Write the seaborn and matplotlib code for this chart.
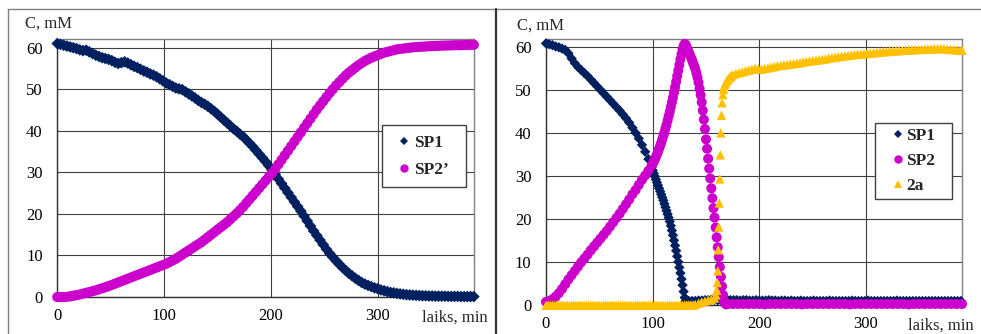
import numpy as np
import pandas as pd
import matplotlib
matplotlib.use('Agg')
import matplotlib.pyplot as plt
import seaborn as sns
from matplotlib.lines import Line2D
from matplotlib.patches import Rectangle

# ---------------- data ----------------
# Left panel, 3-minute sampling
time_left = list(range(0, 391, 3))
sp1_left = [
    61.0, 60.8, 60.6, 60.4, 60.2, 60.0, 59.8, 59.5, 59.3, 59.4,
    59.0, 58.6, 58.2, 57.9, 57.6, 57.4, 57.2, 56.9, 56.5, 56.2,
    56.4, 56.6, 56.3, 55.9, 55.5, 55.2, 54.8, 54.4, 54.1, 53.7,
    53.4, 53.0, 52.5, 52.0, 51.5, 51.1, 50.7, 50.3, 50.1, 49.9,
    49.4, 48.9, 48.4, 47.9, 47.3, 46.8, 46.4, 45.9, 45.3, 44.7,
    44.0, 43.3, 42.6, 41.9, 41.2, 40.5, 39.9, 39.2, 38.6, 37.8,
    37.0, 36.2, 35.3, 34.4, 33.5, 32.6, 31.6, 30.6, 29.5, 28.4,
    27.3, 26.2, 25.1, 24.0, 22.9, 21.8, 20.7, 19.5, 18.3, 17.1,
    15.9, 14.8, 13.7, 12.6, 11.5, 10.5, 9.6, 8.7, 7.9, 7.1,
    6.4, 5.7, 5.1, 4.5, 4.0, 3.5, 3.1, 2.8, 2.5, 2.2,
    2.0, 1.7, 1.5, 1.3, 1.1, 1.0, 0.85, 0.75, 0.65, 0.55,
    0.5, 0.45, 0.4, 0.35, 0.3, 0.3, 0.25, 0.25, 0.2, 0.2,
    0.2, 0.2, 0.15, 0.15, 0.15, 0.15, 0.1, 0.1, 0.1, 0.1,
    0.1,
]
sp2p_left = [
    0.0, 0.0, 0.0, 0.05, 0.15, 0.3, 0.45, 0.6, 0.8, 1.0,
    1.2, 1.4, 1.6, 1.85, 2.1, 2.35, 2.6, 2.9, 3.2, 3.5,
    3.8, 4.1, 4.4, 4.7, 5.0, 5.3, 5.6, 5.9, 6.2, 6.5,
    6.8, 7.1, 7.4, 7.7, 8.0, 8.4, 8.8, 9.2, 9.7, 10.2,
    10.7, 11.2, 11.7, 12.2, 12.7, 13.2, 13.8, 14.4, 15.0, 15.6,
    16.2, 16.8, 17.4, 18.0, 18.7, 19.4, 20.1, 20.9, 21.7, 22.6,
    23.5, 24.4, 25.3, 26.2, 27.1, 28.0, 28.9, 29.8, 30.8, 31.9,
    33.0, 34.1, 35.2, 36.3, 37.4, 38.5, 39.6, 40.7, 41.8, 42.9,
    44.0, 45.1, 46.1, 47.1, 48.1, 49.1, 50.0, 50.9, 51.7, 52.5,
    53.3, 54.0, 54.6, 55.2, 55.8, 56.3, 56.8, 57.2, 57.6, 57.9,
    58.2, 58.5, 58.8, 59.0, 59.2, 59.4, 59.6, 59.7, 59.8, 59.9,
    60.0, 60.1, 60.15, 60.2, 60.25, 60.3, 60.35, 60.4, 60.4, 60.45,
    60.5, 60.5, 60.55, 60.55, 60.6, 60.6, 60.6, 60.65, 60.65, 60.7,
    60.7,
]

# Right panel
time_sp1_right = list(range(0, 100, 3)) + list(range(100, 132)) + list(range(134, 391, 3))
sp1_right = [
    60.9, 60.7, 60.5, 60.2, 60.0, 59.7, 59.4, 58.6, 57.4, 56.3,
    55.4, 54.7, 54.0, 53.3, 52.5, 51.7, 50.9, 50.1, 49.3, 48.5,
    47.7, 46.9, 46.1, 45.3, 44.4, 43.5, 42.5, 41.3, 40.1, 38.8,
    37.3, 35.7, 34.0, 32.1,
    31.4, 30.7, 30.0, 29.3, 28.6, 27.9, 27.2, 26.5, 25.8, 25.1,
    24.4, 23.6, 22.8, 22.0, 21.2, 20.4, 19.5, 18.5, 17.4, 16.3,
    15.1, 13.9, 12.7, 11.4, 10.1, 8.8, 7.5, 6.1, 4.7, 3.2,
    1.8, 1.0,
    1.0, 1.0, 1.0, 1.1, 1.1, 1.2, 1.2, 1.3, 1.3, 1.2,
    1.2, 1.3, 1.3, 1.2, 1.2, 1.2, 1.1, 1.2, 1.2, 1.1,
    1.1, 1.2, 1.1, 1.1, 1.1, 1.2, 1.1, 1.1, 1.0, 1.1,
    1.1, 1.0, 1.1, 1.0, 1.0, 1.1, 1.0, 1.0, 1.0, 1.1,
    1.0, 1.0, 1.0, 1.0, 1.1, 1.0, 1.0, 1.0, 1.0, 1.0,
    1.0, 1.1, 1.0, 1.0, 1.0, 1.0, 1.1, 1.0, 1.0, 1.0,
    1.0, 1.0, 1.0, 1.0, 1.0, 1.1, 1.0, 1.0, 1.0, 1.0,
    1.0, 1.0, 1.0, 1.0, 1.0, 1.0, 1.0, 1.0, 1.0, 1.0,
    1.0, 1.0, 1.0, 1.0, 1.0, 1.0,
]

time_sp2_right = list(range(0, 100, 3)) + list(range(100, 170)) + list(range(170, 391, 5))
sp2_right = [
    0.8, 1.0, 1.4, 2.0, 2.8, 3.8, 4.9, 6.0, 7.0, 8.0,
    9.0, 10.0, 10.9, 11.8, 12.8, 13.7, 14.6, 15.5, 16.4, 17.3,
    18.3, 19.3, 20.3, 21.3, 22.4, 23.5, 24.6, 25.8, 26.8, 28.0,
    29.2, 30.2, 31.3, 32.5,
    32.9, 33.4, 33.9, 34.5, 35.1, 35.7, 36.4, 37.1, 37.8, 38.6,
    39.4, 40.2, 41.1, 42.0, 43.0, 44.0, 45.0, 46.1, 47.2, 48.3,
    49.5, 50.7, 52.0, 53.3, 54.6, 55.9, 57.2, 58.4, 59.5, 60.3,
    60.8, 60.6, 60.0, 59.4, 58.8, 58.2, 57.6, 57.0, 56.3, 55.6,
    55.0, 54.0, 53.0, 51.8, 50.4, 48.9, 47.2, 45.3, 43.2, 41.0,
    38.6, 36.4, 34.1, 31.8, 29.5, 27.2, 24.9, 22.6, 20.4, 18.1,
    15.8, 13.5, 11.2, 8.9, 6.6, 4.4, 2.4, 1.0, 0.4, 0.2,
    0.3, 0.3, 0.3, 0.3, 0.3, 0.3, 0.3, 0.2, 0.3, 0.3,
    0.3, 0.3, 0.3, 0.3, 0.2, 0.3, 0.3, 0.3, 0.3, 0.3,
    0.3, 0.3, 0.3, 0.2, 0.3, 0.3, 0.3, 0.3, 0.3, 0.3,
    0.3, 0.3, 0.3, 0.3, 0.2, 0.3, 0.3, 0.3, 0.3, 0.3,
    0.3, 0.3, 0.3, 0.3, 0.3,
]

time_2a_right = (list(range(0, 141, 2))
                 + [143, 146, 149, 152, 155, 158, 159.3]
                 + [160.0, 160.6, 161.1, 161.5, 161.9, 162.4, 162.9, 163.4,
                    163.9, 164.5, 165.1, 165.8, 166.5]
                 + list(range(167, 176))
                 + list(range(178, 391, 3)) + [390])
c2a_right = [
    0.0, 0.0, 0.0, 0.0, 0.0, 0.0, 0.0, 0.0, 0.0, 0.0,
    0.0, 0.0, 0.0, 0.0, 0.0, 0.0, 0.0, 0.0, 0.0, 0.0,
    0.0, 0.0, 0.0, 0.0, 0.0, 0.0, 0.0, 0.0, 0.0, 0.0,
    0.0, 0.0, 0.0, 0.0, 0.0, 0.0, 0.0, 0.0, 0.0, 0.0,
    0.0, 0.0, 0.0, 0.0, 0.0, 0.0, 0.0, 0.0, 0.0, 0.0,
    0.0, 0.0, 0.0, 0.0, 0.0, 0.0, 0.0, 0.0, 0.0, 0.0,
    0.0, 0.0, 0.0, 0.0, 0.0, 0.1, 0.1, 0.1, 0.1, 0.1,
    0.2,
    0.5, 0.8, 1.0, 1.2, 1.4, 1.7, 2.4,
    3.5, 5.3, 8.0, 12.9, 18.2, 23.8, 29.4, 35.0,
    40.1, 44.2, 47.1, 49.0, 50.2,
    50.9, 51.5, 52.0, 52.4, 52.7, 53.0, 53.2, 53.4, 53.6,
    53.9, 54.1, 54.3, 54.5, 54.7, 54.9, 55.1, 55.0, 54.9, 55.1,
    55.2, 55.4, 55.5, 55.7, 55.8, 55.9, 56.0, 56.1, 56.2, 56.3,
    56.4, 56.6, 56.7, 56.8, 56.9, 57.0, 57.1, 57.2, 57.3, 57.5,
    57.6, 57.7, 57.8, 57.9, 58.0, 58.1, 58.2, 58.3, 58.4, 58.4,
    58.5, 58.6, 58.7, 58.7, 58.8, 58.9, 59.0, 59.0, 59.1, 59.1,
    59.2, 59.2, 59.3, 59.3, 59.4, 59.4, 59.5, 59.5, 59.5, 59.6,
    59.6, 59.6, 59.7, 59.7, 59.7, 59.7, 59.6, 59.5, 59.5, 59.4,
    59.3, 59.3,
]

x_ticks = [0, 100, 200, 300]
y_ticks = [0, 10, 20, 30, 40, 50, 60]
y_label = "C, mM"
x_label = "laiks, min"
legend_left = ["SP1", "SP2\u2019"]
legend_right = ["SP1", "SP2", "2a"]

NAVY = "#002060"
MAGENTA = "#CC00CC"
GOLD = "#FFC000"

# ---------------- styling ----------------
sns.set_theme(style="white")
plt.rcParams["font.family"] = ["Liberation Serif", "DejaVu Serif"]

W, H = 981, 334
fig = plt.figure(figsize=(W / 100, H / 100), dpi=100)
fig.patch.set_facecolor("white")


def fx(px):
    return px / W


def fy(py):
    return 1 - py / H


axL = fig.add_axes([fx(57.3), fy(297.0), 416.5 / W, (297.0 - 39.4) / H])
axR = fig.add_axes([fx(546.0), fy(305.3), 416.0 / W, (305.3 - 38.7) / H])


def draw(ax, t, c, marker, color, s, z):
    sns.scatterplot(x=t, y=c, ax=ax, marker=marker, color=color, s=s,
                    linewidth=0, edgecolor="none", clip_on=False,
                    zorder=z, legend=False)


draw(axL, time_left, sp1_left, "D", NAVY, 36, 3)
draw(axL, time_left, sp2p_left, "o", MAGENTA, 54, 4)

draw(axR, time_sp1_right, sp1_right, "D", NAVY, 28, 3)
draw(axR, time_sp2_right, sp2_right, "o", MAGENTA, 52, 4)
draw(axR, time_2a_right, c2a_right, "^", GOLD, 46, 5)

for ax in (axL, axR):
    ax.set_xlim(0, 390)
    ax.set_ylim(0, 62)
    ax.set_xticks(x_ticks)
    ax.set_yticks(y_ticks)
    ax.set_xlabel("")
    ax.set_ylabel("")
    ax.grid(True, color="#404040", lw=0.8)
    ax.set_axisbelow(True)
    ax.tick_params(length=0, labelsize=12, labelcolor="black")
    ax.tick_params(axis="y", pad=10.5)
    ax.tick_params(axis="x", pad=8.0)
    for side in ("left", "bottom"):
        ax.spines[side].set_color("#303030")
        ax.spines[side].set_linewidth(1.0)
        ax.spines[side].set_visible(True)
    for side in ("top", "right"):
        ax.spines[side].set_color("#808080")
        ax.spines[side].set_linewidth(1.0)
        ax.spines[side].set_visible(True)
    ax.set_facecolor("white")

# axis titles
fig.text(fx(25), fy(24), y_label, ha="left", va="center", fontsize=12)
fig.text(fx(517), fy(26), y_label, ha="left", va="center", fontsize=12)
fig.text(fx(488), fy(318), x_label, ha="right", va="center", fontsize=12)
fig.text(fx(974), fy(326), x_label, ha="right", va="center", fontsize=12)

# frames around the panels
fig.add_artist(Line2D([fx(8), fx(8)], [fy(9), 0], color="#808080", lw=1.0))
fig.add_artist(Line2D([fx(8), 1], [fy(9), fy(9)], color="#808080", lw=1.0))
fig.add_artist(Line2D([fx(496), fx(496)], [fy(9), 0], color="#333333", lw=1.6))

# legends
def legend_box(x0, y0, x1, y1):
    fig.add_artist(Rectangle((fx(x0), fy(y1)), (x1 - x0) / W, (y1 - y0) / H,
                             transform=fig.transFigure, facecolor="white",
                             edgecolor="#404040", lw=1.0, zorder=3))


hL = [Line2D([], [], ls="none", marker="D", color=NAVY, markersize=3.8, mew=0),
      Line2D([], [], ls="none", marker="o", color=MAGENTA, markersize=6.0, mew=0)]
legend_box(382, 125, 466, 187)
fig.legend(hL, legend_left, loc="center left", bbox_to_anchor=(fx(399), fy(156.5)),
           frameon=False, prop=dict(weight="bold", size=12.5), handlelength=0.6,
           handletextpad=0.25, labelspacing=0.62, borderpad=0, borderaxespad=0)

hR = [Line2D([], [], ls="none", marker="D", color=NAVY, markersize=3.8, mew=0),
      Line2D([], [], ls="none", marker="o", color=MAGENTA, markersize=6.0, mew=0),
      Line2D([], [], ls="none", marker="^", color=GOLD, markersize=6.0, mew=0)]
legend_box(875, 123, 952, 199)
fig.legend(hR, legend_right, loc="center left", bbox_to_anchor=(fx(893), fy(161)),
           frameon=False, prop=dict(weight="bold", size=12.5), handlelength=0.6,
           handletextpad=0.15, labelspacing=0.5, borderpad=0, borderaxespad=0)

fig.savefig("out.png", dpi=100, facecolor="white")
